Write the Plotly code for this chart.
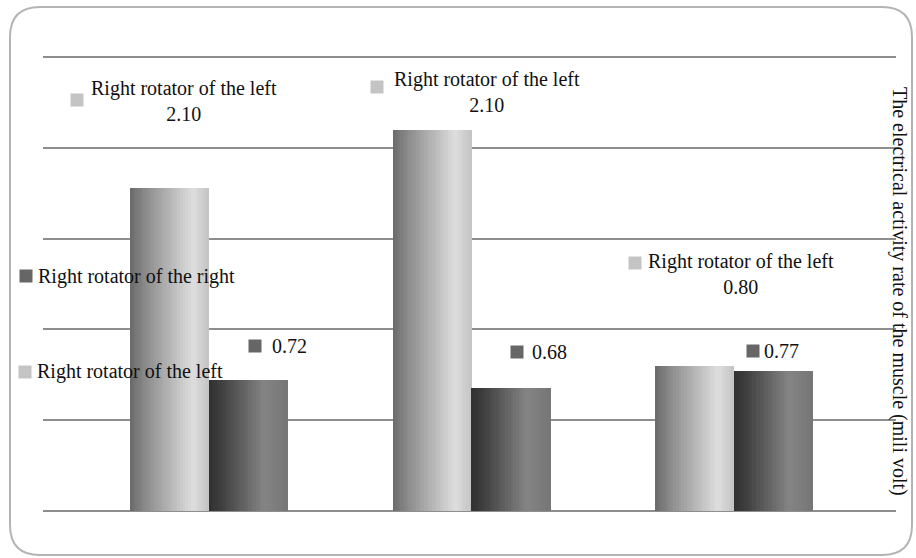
import plotly.graph_objects as go

# ---- data ----
groups = [0, 1, 2]
left_values = [1.78, 2.10, 0.80]     # light bars (as drawn)
right_values = [0.72, 0.68, 0.77]    # dark bars
y_title = "The electrical activity rate of the muscle (mili volt)"
label_left = "Right rotator of the left"
label_right = "Right rotator of the right"
value_labels_left = ["2.10", "2.10", "0.80"]
value_labels_right = ["0.72", "0.68", "0.77"]

W, H = 916, 558
L, R, T, B = 43, 20, 48, 47
PW, PH = W - L - R, H - T - B
YTOP = 2.5 + 9 / 181.6


def px(p):
    return (p - L) / PW


def py(p):
    return (H - B - p) / PH


def interp(stops, t):
    for (t0, v0), (t1, v1) in zip(stops, stops[1:]):
        if t0 <= t <= t1:
            return v0 + (v1 - v0) * (t - t0) / (t1 - t0)
    return stops[-1][1]


fig = go.Figure()
BW = 0.30
N = 30
light_stops = [(0, 105), (0.2, 140), (0.8, 222), (1.0, 195)]
dark_stops = [(0, 48), (0.15, 62), (0.7, 132), (1.0, 118)]
for vals, base, stops in [(left_values, -BW, light_stops), (right_values, 0.0, dark_stops)]:
    for i in range(N):
        t = (i + 0.5) / N
        g = int(round(interp(stops, t)))
        fig.add_trace(go.Bar(
            x=groups, y=vals, offset=base + i * BW / N, width=BW / N + 0.002,
            marker=dict(color=f"rgb({g},{g},{g})", line=dict(width=0)),
            showlegend=False, hoverinfo="skip"))

font = dict(family="Liberation Serif", size=20, color="#111111")
ann = []
shapes = []
LIGHT_SQ = "#c4c4c4"
DARK_SQ = "#666666"


def square(cx, cy, color, s=13):
    shapes.append(dict(type="rect", xref="paper", yref="paper",
                       x0=px(cx - s / 2), x1=px(cx + s / 2),
                       y0=py(cy + s / 2), y1=py(cy - s / 2),
                       fillcolor=color, line=dict(width=0), layer="above"))


# two-line labels for light bars
for (cx, cy, sqx, sqy), v in zip([(184, 101, 77, 100), (487, 92, 377, 87), (741, 274, 635, 263)], value_labels_left):
    ann.append(dict(x=px(cx), y=py(cy), xref="paper", yref="paper", text=f"{label_left}<br>{v}",
                    showarrow=False, xanchor="center", yanchor="middle", align="center", font=font))
    square(sqx, sqy, LIGHT_SQ)

for (lx, ly, sqx, sqy), v in zip([(270, 346, 255, 346), (530, 352, 517, 352), (762, 351, 753, 351)], value_labels_right):
    ann.append(dict(x=px(lx), y=py(ly), xref="paper", yref="paper", text=v,
                    showarrow=False, xanchor="left", yanchor="middle", font=font))
    square(sqx, sqy, DARK_SQ)

ann.append(dict(x=px(36), y=py(276), xref="paper", yref="paper", text=label_right,
                showarrow=False, xanchor="left", yanchor="middle", font=font))
square(26, 276, DARK_SQ)
ann.append(dict(x=px(35), y=py(371), xref="paper", yref="paper", text=label_left,
                showarrow=False, xanchor="left", yanchor="middle", font=font))
square(25, 372, LIGHT_SQ)

ann.append(dict(x=px(900), y=py(291), xref="paper", yref="paper", text=y_title, textangle=90,
                showarrow=False, xanchor="center", yanchor="middle", font=font))

# rounded frame
x0, x1, y0, y1, r = 10, 912, 7, 555, 30
rx, ry = r / PW, r / PH
X0, X1, Y0, Y1 = px(x0), px(x1), py(y0), py(y1)
path = (f"M {X0+rx},{Y0} L {X1-rx},{Y0} Q {X1},{Y0} {X1},{Y0-ry} "
        f"L {X1},{Y1+ry} Q {X1},{Y1} {X1-rx},{Y1} L {X0+rx},{Y1} "
        f"Q {X0},{Y1} {X0},{Y1+ry} L {X0},{Y0-ry} Q {X0},{Y0} {X0+rx},{Y0} Z")
shapes.append(dict(type="path", xref="paper", yref="paper", path=path,
                   line=dict(color="#b4b4b4", width=2), layer="below"))

fig.update_layout(
    width=W, height=H, margin=dict(l=L, r=R, t=T, b=B),
    paper_bgcolor="white", plot_bgcolor="white",
    barmode="overlay", bargap=0,
    xaxis=dict(range=[-0.632, 2.618], showgrid=False, zeroline=False, showticklabels=False,
               showline=False, ticks=""),
    yaxis=dict(range=[0, YTOP], dtick=0.5, showgrid=True, gridcolor="#8e8e8e", gridwidth=2,
               zeroline=True, zerolinecolor="#8e8e8e", zerolinewidth=2,
               showticklabels=False, ticks="", showline=False),
    annotations=ann, shapes=shapes,
)

fig.write_html("out.html", config={"displayModeBar": False},
               post_script="document.body.style.margin='0';document.body.style.overflow='hidden';")
